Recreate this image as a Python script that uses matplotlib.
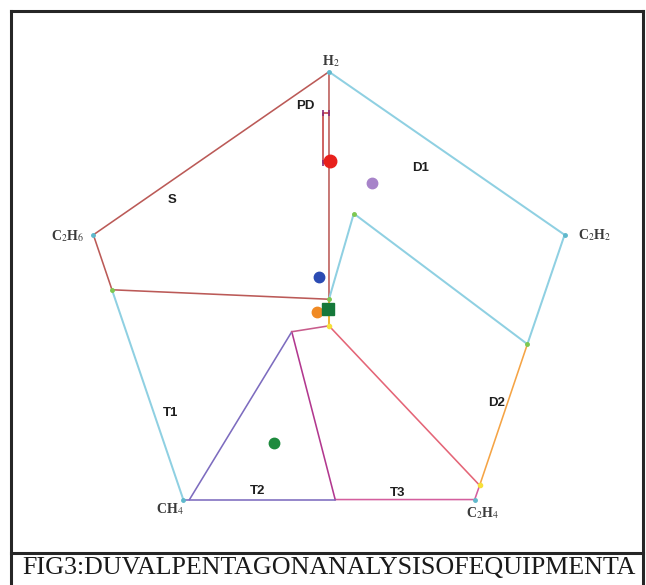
import matplotlib
matplotlib.use("Agg")
import matplotlib.pyplot as plt
from matplotlib.lines import Line2D

plt.rcParams["mathtext.fontset"] = "stix"

# Gas vertices of the Duval pentagon
gas_labels = ["H$_2$", "C$_2$H$_2$", "C$_2$H$_4$", "CH$_4$", "C$_2$H$_6$"]
gas_x = [0.0, 38.0, 23.5, -23.5, -38.0]
gas_y = [40.0, 12.4, -32.4, -32.4, 12.4]
gas_label_x = [0.3, 42.8, 24.8, -25.7, -42.2]
gas_label_y = [41.8, 12.4, -34.7, -34.0, 12.2]

# Zone boundaries
s_x = [0.0, -38.0, -35.0, 0.0, 0.0]
s_y = [40.0, 12.4, 3.1, 1.5, 40.0]
pd_x = [0.0, -1.0, -1.0, 0.0]
pd_y = [33.0, 33.0, 24.5, 24.5]
d1_x = [0.0, 38.0, 32.0, 4.0, 0.0]
d1_y = [40.0, 12.4, -6.1, 16.0, 1.5]
t1_outer_x = [-35.0, -23.5]
t1_outer_y = [3.1, -32.4]
d2_x = [32.0, 24.3]
d2_y = [-6.1, -30.0]
t3_diag_x = [0.0, 24.3]
t3_diag_y = [-3.0, -30.0]
t3_outer_x = [24.3, 23.5, 1.0]
t3_outer_y = [-30.0, -32.4, -32.4]
t23_x = [1.0, -6.0]
t23_y = [-32.4, -4.0]
t2_x = [-6.0, -22.5]
t2_y = [-4.0, -32.4]
t2_base_x = [-23.5, 1.0]
t2_base_y = [-32.4, -32.4]
t1_inner_x = [-6.0, 0.0]
t1_inner_y = [-4.0, -3.0]
mid_x = [0.0, 0.0]
mid_y = [-3.0, 1.5]

# Zone names
zone_names = ["PD", "D1", "S", "T1", "D2", "T2", "T3"]
zone_x = [-3.8, 14.7, -25.3, -25.6, 27.1, -11.5, 11.1]
zone_y = [34.2, 23.7, 18.3, -17.8, -16.1, -31.0, -31.3]

# Gas samples
sample_x = [0.2, 7.0, -1.6, -1.9, -0.1, -8.8]
sample_y = [24.9, 21.2, 5.3, -0.6, -0.2, -22.9]
sample_colors = ["#e8201c", "#a783c9", "#2b4bb3", "#f08a24", "#15783a", "#1d8a3d"]
sample_markers = ["o", "o", "o", "o", "s", "o"]
sample_sizes = [9, 7.5, 7.5, 7.5, 8.5, 7.5]

W, H = 646, 585
fig = plt.figure(figsize=(W / 100, H / 100), dpi=100)
fig.patch.set_facecolor("white")
ax = fig.add_axes([0, 0, 1, 1])
ax.set_xlim(-53.06, 51.13)
ax.set_ylim(-46.86, 52.14)
ax.axis("off")

lw = 1.15
ax.plot(s_x, s_y, color="#bb5a57", lw=lw, zorder=2)
ax.plot(pd_x, pd_y, color="#c4403f", lw=lw, zorder=2,
        marker="|", ms=5, mec="#8a2a7a", mew=1.2)
ax.plot(d1_x, d1_y, color="#8fd0e2", lw=lw + 0.3, zorder=2)
ax.plot(t1_outer_x, t1_outer_y, color="#8fd0e2", lw=lw + 0.3, zorder=2)
ax.plot(d2_x, d2_y, color="#f5a445", lw=lw, zorder=2)
ax.plot(t3_diag_x, t3_diag_y, color="#e46577", lw=lw, zorder=2)
ax.plot(t3_outer_x, t3_outer_y, color="#d45f9e", lw=lw, zorder=2)
ax.plot(t23_x, t23_y, color="#b2388f", lw=lw, zorder=2)
ax.plot(t2_x, t2_y, color="#7d6cbf", lw=lw, zorder=2)
ax.plot(t2_base_x, t2_base_y, color="#7d6cbf", lw=lw, zorder=2)
ax.plot(t1_inner_x, t1_inner_y, color="#c85c8c", lw=lw, zorder=2)
ax.plot(mid_x, mid_y, color="#f2b637", lw=lw + 0.3, zorder=2)

# Small vertex markers on the boundaries
ax.plot([4.0, 32.0, 0.0, -35.0], [16.0, -6.1, 1.5, 3.1], "o", ms=2.5,
        color="#7ec850", zorder=3)
ax.plot([24.3, 0.0], [-30.0, -3.0], "o", ms=3, color="#f7e03a", zorder=3)
ax.plot(gas_x, gas_y, "o", ms=2.5, color="#5fb8cc", zorder=3)

for lab, x, y in zip(gas_labels, gas_label_x, gas_label_y):
    ax.text(x, y, lab, ha="center", va="center", fontsize=10,
            family="Liberation Serif", weight="bold", color="#3a3a3a")

for lab, x, y in zip(zone_names, zone_x, zone_y):
    ax.text(x, y, lab, ha="center", va="center", fontsize=9.5,
            family="Liberation Sans", weight="bold", color="#1e1e1e")

for x, y, c, m, s in zip(sample_x, sample_y, sample_colors,
                         sample_markers, sample_sizes):
    ax.plot([x], [y], marker=m, ms=s, color=c, mec=c, ls="none", zorder=4)

# Figure frame and caption box
def px_line(xs, ys, **kw):
    fig.add_artist(Line2D([x / W for x in xs], [1 - y / H for y in ys],
                          transform=fig.transFigure, **kw))

frame = dict(color="#262626", lw=2.2, solid_capstyle="projecting")
px_line([11, 643], [11, 11], **frame)
px_line([11, 11], [11, 586], **frame)
px_line([643, 643], [11, 586], **frame)
px_line([11, 643], [553, 553], **frame)

fig.text(329 / W, 1 - 568 / H, "FIG3:DUVALPENTAGONANALYSISOFEQUIPMENTA",
         ha="center", va="center", fontsize=18.7,
         family="Liberation Serif", color="#1a1a1a")

fig.savefig("out.png", dpi=100, facecolor="white")
